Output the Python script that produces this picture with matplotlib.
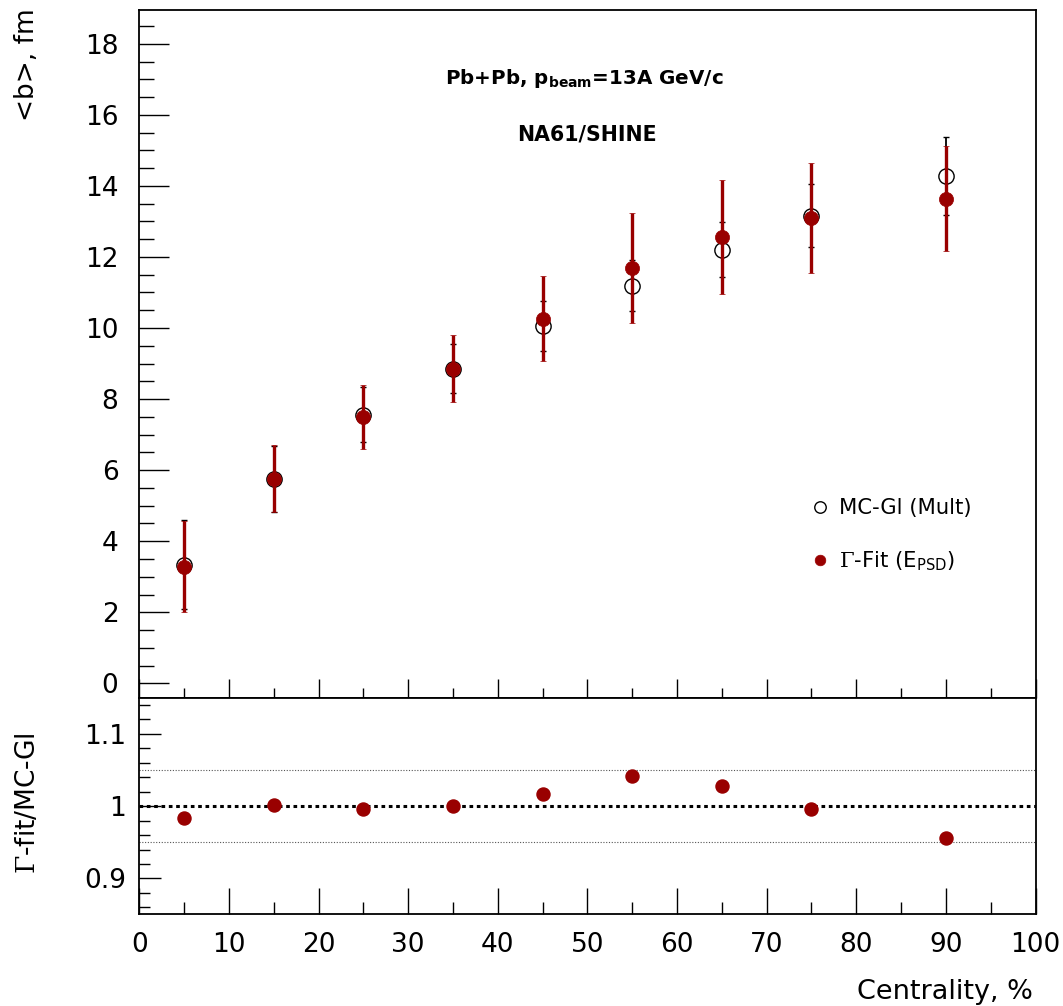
import matplotlib
matplotlib.use('Agg')
import matplotlib.pyplot as plt
from matplotlib.ticker import MultipleLocator, FixedLocator, FuncFormatter

plt.rcParams['font.family'] = ['DejaVu Sans']
plt.rcParams['mathtext.fontset'] = 'custom'
plt.rcParams['mathtext.rm'] = 'DejaVu Serif'
plt.rcParams['mathtext.sf'] = 'DejaVu Sans'
plt.rcParams['mathtext.bf'] = 'DejaVu Sans:bold'
plt.rcParams['mathtext.it'] = 'DejaVu Sans:italic'

# ---------------- data ----------------
centrality = [5, 15, 25, 35, 45, 55, 65, 75, 90]
b_mcgl = [3.34, 5.76, 7.56, 8.86, 10.06, 11.19, 12.20, 13.16, 14.28]
b_mcgl_err = [1.25, 0.93, 0.78, 0.70, 0.70, 0.72, 0.77, 0.89, 1.10]
b_gfit = [3.28, 5.76, 7.50, 8.86, 10.26, 11.69, 12.56, 13.10, 13.64]
b_gfit_err = [1.28, 0.95, 0.90, 0.93, 1.20, 1.56, 1.60, 1.55, 1.47]
ratio = [0.983, 1.001, 0.996, 1.000, 1.016, 1.042, 1.027, 0.996, 0.956]
ratio_ref = 1.0
ratio_band = [0.95, 1.05]

x_ticks = [0, 10, 20, 30, 40, 50, 60, 70, 80, 90, 100]
ratio_ticks = [0.9, 1.0, 1.1]

labels = ['MC-Gl (Mult)', r'$\Gamma$-Fit (E$_{\mathsf{PSD}}$)']

RED = '#990000'

W_PX, H_PX = 1063, 1006
fig = plt.figure(figsize=(W_PX / 100, H_PX / 100), dpi=100)

L = 139.3 / W_PX
R = 1035.5 / W_PX
top1, bot1 = 10.0, 698.3
bot2 = 914.3
ax1 = fig.add_axes([L, 1 - bot1 / H_PX, R - L, (bot1 - top1) / H_PX])
ax2 = fig.add_axes([L, 1 - bot2 / H_PX, R - L, (bot2 - bot1) / H_PX])

# ---------------- top panel ----------------
eb_mc = ax1.errorbar(centrality, b_mcgl, yerr=b_mcgl_err, fmt='o', ms=11,
                     mfc='none', mec='black', mew=1.0, ecolor='black',
                     elinewidth=1.3, capsize=2.4, capthick=2.4, zorder=2)
eb_fit = ax1.errorbar(centrality, b_gfit, yerr=b_gfit_err, fmt='o', ms=10.2,
                      mfc=RED, mec=RED, mew=0.5, ecolor=RED,
                      elinewidth=2.4, capsize=2.0, capthick=2.6, zorder=3)

ax1.set_xlim(0, 100)
ax1.set_ylim(-0.42, 18.95)
ax1.xaxis.set_major_locator(FixedLocator(x_ticks))
ax1.xaxis.set_minor_locator(MultipleLocator(5))
ax1.yaxis.set_major_locator(MultipleLocator(2))
ax1.yaxis.set_minor_locator(MultipleLocator(0.5))
ax1.tick_params(axis='y', which='major', direction='in', length=21.6, width=1.0,
                left=True, right=False, labelsize=19, pad=15)
ax1.tick_params(axis='y', which='minor', direction='in', length=10.8, width=1.0,
                left=True, right=False)
ax1.tick_params(axis='x', which='major', direction='in', length=13.7, width=1.0,
                bottom=True, top=False, labelbottom=False)
ax1.tick_params(axis='x', which='minor', direction='in', length=7.2, width=1.0,
                bottom=True, top=False)

ax1.text(0.497, 0.8925, r'Pb+Pb, p$_{\mathbf{beam}}$=13A GeV/c', transform=ax1.transAxes,
         ha='center', va='baseline', fontsize=14.3, fontweight='bold')
ax1.text(0.4996, 0.8111, 'NA61/SHINE', transform=ax1.transAxes,
         ha='center', va='baseline', fontsize=14.8, fontweight='bold')

ax1.legend([eb_mc[0], eb_fit[0]], labels, loc='center left',
           bbox_to_anchor=(0.7484, 0.2365), frameon=False, fontsize=15.2,
           handlelength=0.95, handletextpad=0.4, labelspacing=1.45,
           borderpad=0, borderaxespad=0, markerscale=0.75, numpoints=1)

# ---------------- ratio panel ----------------
ax2.axhline(ratio_ref, color='black', lw=2.2, ls=(0, (1.2, 1.2)), zorder=1)
for v in ratio_band:
    ax2.axhline(v, color='#555555', lw=0.8, ls=(0, (1, 1.5)), zorder=1)
ax2.plot(centrality, ratio, 'o', ms=9.4, color=RED, mec=RED, zorder=3)

ax2.set_xlim(0, 100)
ax2.set_ylim(0.8506, 1.1486)
ax2.xaxis.set_major_locator(FixedLocator(x_ticks))
ax2.xaxis.set_minor_locator(MultipleLocator(5))
ax2.yaxis.set_major_locator(FixedLocator(ratio_ticks))
ax2.yaxis.set_minor_locator(MultipleLocator(0.02))
ax2.yaxis.set_major_formatter(FuncFormatter(lambda v, p: f'{v:g}'))
ax2.tick_params(axis='y', which='major', direction='in', length=16, width=1.0,
                left=True, right=False, labelsize=19, pad=9.5)
ax2.tick_params(axis='y', which='minor', direction='in', length=8, width=1.0,
                left=True, right=False)
ax2.tick_params(axis='x', which='major', direction='in', length=18.7, width=1.0,
                bottom=True, top=False, labelsize=19, pad=12.6)
ax2.tick_params(axis='x', which='minor', direction='in', length=8.6, width=1.0,
                bottom=True, top=False)

for ax in (ax1, ax2):
    for s in ax.spines.values():
        s.set_linewidth(1.3)

# ---------------- axis titles ----------------
fig.text(27 / W_PX, 1 - 8 / H_PX, '<b>, fm', rotation=90, ha='center', va='top',
         fontsize=19)
fig.text(28 / W_PX, 1 - 732 / H_PX, r'$\Gamma$-fit/MC-Gl', rotation=90,
         ha='center', va='top', fontsize=19)
fig.text(1033 / W_PX, 1 - 999 / H_PX, 'Centrality, %', ha='right', va='baseline',
         fontsize=19.5)

fig.savefig('out.png', dpi=100)
